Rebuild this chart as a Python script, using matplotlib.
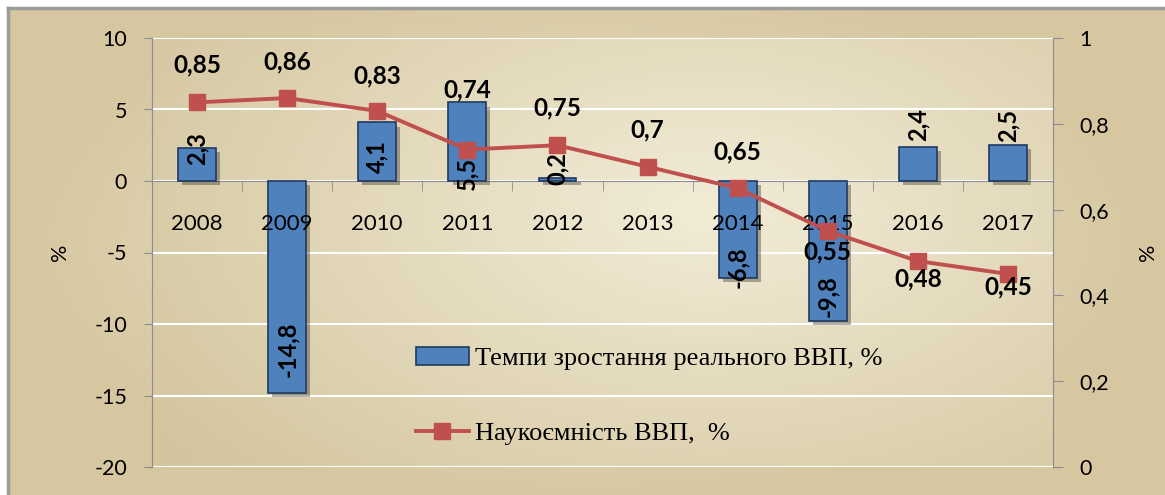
import numpy as np
import matplotlib
matplotlib.use("Agg")
import matplotlib.pyplot as plt
import matplotlib.patheffects as pe
from matplotlib.lines import Line2D
from matplotlib.patches import Patch

# ---- data ----
years = ["2008", "2009", "2010", "2011", "2012", "2013", "2014", "2015", "2016", "2017"]
gdp_growth = [2.3, -14.8, 4.1, 5.5, 0.2, np.nan, -6.8, -9.8, 2.4, 2.5]
gdp_growth_labels = ["2,3", "-14,8", "4,1", "5,5", "0,2", "", "-6,8", "-9,8", "2,4", "2,5"]
rd_intensity = [0.85, 0.86, 0.83, 0.74, 0.75, 0.70, 0.65, 0.55, 0.48, 0.45]
rd_labels = ["0,85", "0,86", "0,83", "0,74", "0,75", "0,7", "0,65", "0,55", "0,48", "0,45"]
left_ticks = [10, 5, 0, -5, -10, -15, -20]
right_ticks = [1, 0.8, 0.6, 0.4, 0.2, 0]
right_tick_labels = ["1", "0,8", "0,6", "0,4", "0,2", "0"]
legend_bar = "Темпи зростання реального ВВП, %"
legend_line = "Наукоємність ВВП,  %"

# ---- layout (label offsets in pixels, style only) ----
bar_label_off = [0, 43, -34, -71, 10, 0, 11, 25, 22, 20]
line_label_off = [37, 36, 35, 60, 37, 37, 36, -21, -18, -13]

W, H = 1165, 495
fig = plt.figure(figsize=(W / 100, H / 100), dpi=100)
fig.patch.set_facecolor("white")
px = 0.72  # points per pixel at 100 dpi

# background gradient for chart area
bg = fig.add_axes([8 / W, 0, 1 - 8 / W, 1 - 8 / H], zorder=-10)
gx = np.linspace(-1, 1, 300)
gy = np.linspace(-1, 1, 150)
X, Y = np.meshgrid(gx, gy)
r = np.clip(np.sqrt((X / 1.0) ** 2 + ((Y - 0.05) / 1.1) ** 2), 0, 1)
c_in = np.array([238, 230, 205]) / 255
c_out = np.array([214, 199, 160]) / 255
img = c_in[None, None, :] * (1 - r[..., None]) + c_out[None, None, :] * r[..., None]
bg.imshow(img, aspect="auto", extent=[0, 1, 0, 1], origin="lower")
bg.set_xlim(0, 1)
bg.set_ylim(0, 1)
bg.axis("off")
fig.add_artist(Line2D([8 / W, 1], [1 - 8 / H, 1 - 8 / H], transform=fig.transFigure,
                      color="#9C9C9C", lw=2.5))
fig.add_artist(Line2D([8 / W, 8 / W], [0, 1 - 8 / H], transform=fig.transFigure,
                      color="#9C9C9C", lw=2.5))

L, R, T, B = 152, 1053, 38, 467
ax = fig.add_axes([L / W, 1 - B / H, (R - L) / W, (B - T) / H])

gx2 = np.linspace(0, 1, 300)
gy2 = np.linspace(0, 1, 150)
X2, Y2 = np.meshgrid(gx2, gy2)
r2 = np.clip(np.sqrt(((X2 - 0.62) / 0.75) ** 2 + ((Y2 - 0.6) / 0.9) ** 2), 0, 1)
c2_in = np.array([242, 236, 215]) / 255
c2_out = np.array([212, 197, 158]) / 255
img2 = c2_in[None, None, :] * (1 - r2[..., None]) + c2_out[None, None, :] * r2[..., None]
ax.imshow(img2, aspect="auto", extent=[-0.5, 9.5, -20, 10], origin="lower", zorder=0)
ax.set_xlim(-0.5, 9.5)
ax.set_ylim(-20, 10)

for y in left_ticks:
    ax.axhline(y, color="white", lw=1.5, zorder=1)

x = np.arange(len(years))
bars = ax.bar(x, gdp_growth, width=0.42, color="#4F81BD", edgecolor="#1F3A60",
              linewidth=1.2, zorder=3)
for b in bars:
    b.set_path_effects([pe.SimplePatchShadow(offset=(3, -3), shadow_rgbFace="black", alpha=0.3),
                        pe.Normal()])

tfont = "Lato"
for xi, v, lab, off in zip(x, gdp_growth, gdp_growth_labels, bar_label_off):
    if not lab:
        continue
    ax.annotate(lab, (xi, v), xytext=(0, off * px), textcoords="offset points",
                ha="center", va="center", rotation=90, fontsize=17,
                fontweight="bold", family=tfont, color="black", zorder=6)

for s in ["top", "right"]:
    ax.spines[s].set_visible(False)
ax.spines["bottom"].set_position(("data", 0))
ax.spines["bottom"].set_color("#8C8C8C")
ax.spines["left"].set_color("#8C8C8C")
ax.spines["bottom"].set_zorder(2)
ax.set_yticks(left_ticks)
ax.set_yticklabels([str(t) for t in left_ticks], family=tfont, fontsize=15.5)
ax.tick_params(axis="y", length=6, color="#8C8C8C", pad=12)
ax.set_xticks(x)
ax.set_xticklabels(years, family=tfont, fontsize=16)
ax.set_xticks(np.arange(-0.5, 10, 1), minor=True)
ax.tick_params(axis="x", which="major", length=0, pad=24)
ax.tick_params(axis="x", which="minor", length=7, color="#8C8C8C", direction="out")
ax.xaxis.set_zorder(4.5)

ax2 = ax.twinx()
ax2.set_ylim(0, 1)
for s in ["top", "left", "bottom"]:
    ax2.spines[s].set_visible(False)
ax2.spines["right"].set_color("#8C8C8C")
ax2.set_yticks(right_ticks)
ax2.set_yticklabels(right_tick_labels, family=tfont, fontsize=15.5)
ax2.tick_params(axis="y", length=7, color="#8C8C8C", pad=12)

ax2.plot(x, rd_intensity, color="#C0504D", lw=2.8, marker="s", markersize=12,
         markerfacecolor="#C0504D", markeredgecolor="#C0504D", zorder=5)
for xi, v, lab, off in zip(x, rd_intensity, rd_labels, line_label_off):
    ax2.annotate(lab, (xi, v), xytext=(0, off * px), textcoords="offset points",
                 ha="center", va="center", fontsize=17.5, fontweight="bold",
                 family=tfont, color="black", zorder=6)

fig.text(60 / W, 1 - 252 / H, "%", rotation=90, ha="center", va="center",
         family=tfont, fontsize=15.5)
fig.text(1148 / W, 1 - 252 / H, "%", rotation=90, ha="center", va="center",
         family=tfont, fontsize=15.5)

handles = [Patch(facecolor="#4F81BD", edgecolor="#1F3A60", linewidth=1.2),
           Line2D([], [], color="#C0504D", lw=2.8, marker="s", markersize=12)]
leg = ax2.legend(handles, [legend_bar, legend_line], loc="upper left",
                 bbox_to_anchor=(416 / W, 1 - 347 / H), bbox_transform=fig.transFigure,
                 frameon=False, borderpad=0, borderaxespad=0,
                 prop={"family": "Liberation Serif", "size": 19},
                 labelspacing=1.95, handlelength=2.0, handletextpad=0.25)

fig.savefig("out.png", dpi=100)
